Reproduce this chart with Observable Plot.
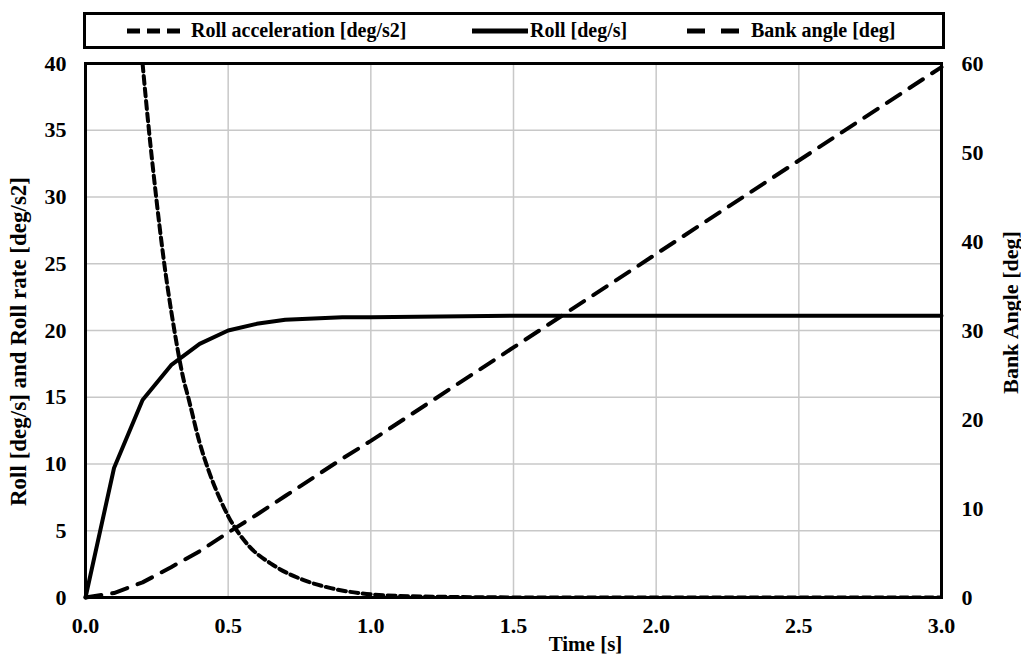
<!DOCTYPE html>
<html>
<head>
<meta charset="utf-8">
<script src="https://cdn.jsdelivr.net/npm/d3@7"></script>
<script src="https://cdn.jsdelivr.net/npm/@observablehq/plot@0.6"></script>
<style>
  html, body { margin: 0; padding: 0; background: white; }
  body { width: 1021px; height: 656px; position: relative; overflow: hidden; font-family: "Liberation Serif", "Tinos", "Times New Roman", "DejaVu Serif", serif; }
  #legend { position: absolute; left: 83px; top: 12px; width: 856px; height: 31px; border: 3px solid black; background: white; }
  .item { position: absolute; top: 0; height: 31px; display: flex; align-items: center; font-weight: bold; font-size: 20px; white-space: nowrap; }
  #chart { position: absolute; left: 0; top: 50px; }
  #chart svg text { font-family: "Liberation Serif", "Tinos", "Times New Roman", "DejaVu Serif", serif; }
</style>
</head>
<body>
<div id="legend"></div>
<div id="chart"></div>
<script>
// ---- data ----
const timeRoll = [0, 0.1, 0.2, 0.3, 0.4, 0.5, 0.6, 0.7, 0.8, 0.9, 1.0, 1.5, 2.0, 2.5, 3.0];
const rollRate = [0, 9.7, 14.8, 17.4, 19.0, 20.0, 20.5, 20.8, 20.9, 21.0, 21.0, 21.1, 21.1, 21.1, 21.1];

const timeAcc = [0.2, 0.22, 0.245, 0.273, 0.31, 0.344, 0.36, 0.40, 0.43, 0.473, 0.5, 0.567, 0.66, 0.765, 0.86, 0.97, 1.1, 1.3, 1.6, 2.0, 2.5, 3.0];
const rollAcc = [40, 35.5, 30.5, 25.5, 20.2, 16.3, 15, 11.6, 9.6, 7.3, 6.1, 4.0, 2.4, 1.3, 0.7, 0.3, 0.12, 0.04, 0, 0, 0, 0];

const timeBank = [0, 0.1, 0.2, 0.3, 0.4, 0.5, 0.6, 0.7, 0.8, 0.9, 1.0, 1.5, 2.0, 2.5, 3.0];
const bankAngle = [0, 0.5, 1.7, 3.4, 5.2, 7.3, 9.3, 11.4, 13.5, 15.6, 17.6, 28.1, 38.6, 49.1, 59.6];

const xTicks = [0, 0.5, 1.0, 1.5, 2.0, 2.5, 3.0];
const yTicks = [0, 5, 10, 15, 20, 25, 30, 35, 40];
const bankTicks = [0, 10, 20, 30, 40, 50, 60];

const seriesNames = ["Roll acceleration [deg/s2]", "Roll [deg/s]", "Bank angle [deg]"];
const xTitle = "Time [s]";
const yTitle = "Roll [deg/s] and Roll rate [deg/s2]";
const y2Title = "Bank Angle [deg]";

// ---- tables ----
const ratio = 60 / 40;
const rollData = timeRoll.map((t, i) => ({t, v: rollRate[i]}));
const accData = timeAcc.map((t, i) => ({t, v: rollAcc[i]}));
const bankData = timeBank.map((t, i) => ({t, v: bankAngle[i] / ratio}));

const accDash = "8,4.5";
const bankDash = "16,11";
const gridStyle = {stroke: "#c8c8c8", strokeOpacity: 1, strokeWidth: 1.5};
const serif = "'Liberation Serif', Tinos, 'Times New Roman', 'DejaVu Serif', serif";

const chart = Plot.plot({
  width: 1021,
  height: 606,
  marginTop: 13,
  marginBottom: 59,
  marginLeft: 85,
  marginRight: 80,
  x: {domain: [0, 3]},
  y: {domain: [0, 40]},
  style: {fontFamily: serif, fontSize: "22px", fontWeight: "bold", color: "black", background: "white", overflow: "visible"},
  marks: [
    Plot.gridX(xTicks, gridStyle),
    Plot.gridY(yTicks, gridStyle),
    Plot.axisX({ticks: xTicks, tickSize: 0, tickPadding: 20, label: null, tickFormat: d => d.toFixed(1)}),
    Plot.axisY({ticks: yTicks, tickSize: 0, tickPadding: 19, label: null}),
    Plot.axisY({anchor: "right", ticks: bankTicks.map(v => v / ratio), tickSize: 0, tickPadding: 20, label: null, tickFormat: d => String(Math.round(d * ratio))}),
    Plot.line(bankData, {x: "t", y: "v", stroke: "black", strokeWidth: 4, strokeDasharray: bankDash}),
    Plot.line(accData, {x: "t", y: "v", stroke: "black", strokeWidth: 4, strokeDasharray: accDash, curve: "monotone-x", clip: true}),
    Plot.line(rollData, {x: "t", y: "v", stroke: "black", strokeWidth: 4}),
    Plot.frame({stroke: "black", strokeWidth: 3}),
    Plot.text([xTitle], {text: d => d, frameAnchor: "bottom", dx: 72, dy: 47, textAnchor: "middle", lineAnchor: "middle", fontSize: 21, fontWeight: "bold", fill: "black"}),
    Plot.text([yTitle], {text: d => d, frameAnchor: "left", dx: -67, dy: 11, rotate: -90, textAnchor: "middle", lineAnchor: "middle", fontSize: 23, fontWeight: "bold", fill: "black"}),
    Plot.text([y2Title], {text: d => d, frameAnchor: "right", dx: 69, dy: -18, rotate: -90, textAnchor: "middle", lineAnchor: "middle", fontSize: 22, fontWeight: "bold", fill: "black"})
  ]
});
document.getElementById("chart").appendChild(chart);

// ---- legend ----
const legend = document.getElementById("legend");
const items = [
  {name: seriesNames[0], dash: "13,7", left: 41, w: 54, gap: 10},
  {name: seriesNames[1], dash: null, left: 386, w: 56, gap: 2},
  {name: seriesNames[2], dash: "18,16", left: 601, w: 54, gap: 10}
];
items.forEach(it => {
  const div = document.createElement("div");
  div.className = "item";
  div.style.left = it.left + "px";
  div.innerHTML = `<svg width="${it.w}" height="10" style="margin-right:${it.gap}px"><line x1="0" y1="5" x2="${it.w}" y2="5" stroke="black" stroke-width="5" ${it.dash ? `stroke-dasharray="${it.dash}"` : ""}/></svg><span>${it.name}</span>`;
  legend.appendChild(div);
});
</script>
</body>
</html>
